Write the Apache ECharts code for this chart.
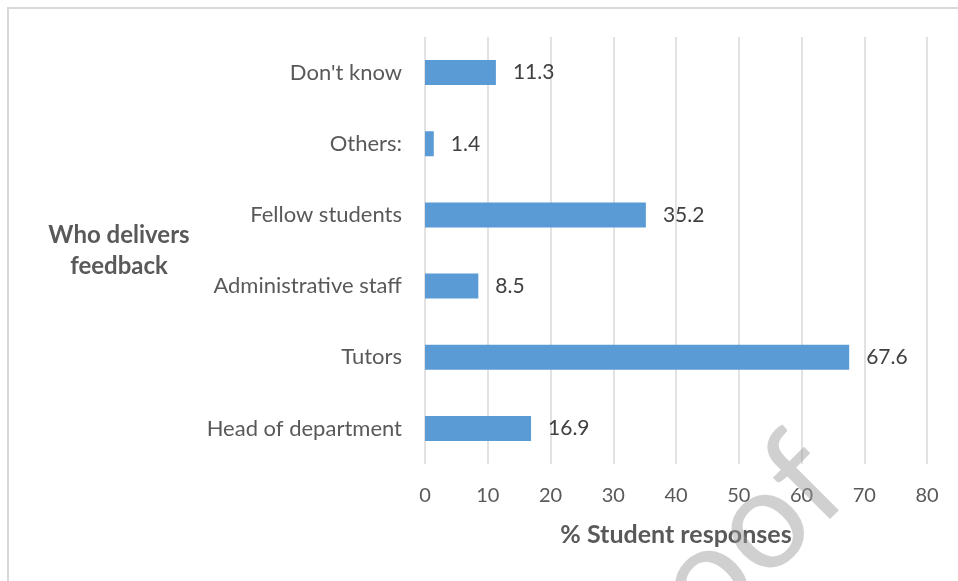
<!DOCTYPE html>
<html>
<head>
<meta charset="utf-8">
<title>Who delivers feedback</title>
<script src="https://cdn.jsdelivr.net/npm/echarts@6/dist/echarts.min.js"></script>
<style>
  html, body { margin: 0; padding: 0; background: #ffffff; }
  #chart { width: 958px; height: 581px; }
</style>
</head>
<body>
<div id="chart"></div>
<script>
// Categories listed bottom-to-top (category axis starts at the bottom)
const categories = ['Head of department', 'Tutors', 'Administrative staff', 'Fellow students', 'Others:', "Don't know"];
const responses = [16.9, 67.6, 8.5, 35.2, 1.4, 11.3];
const xTicks = { min: 0, max: 80, interval: 10 };

const FONT = 'Lato, "Open Sans", sans-serif';

const chart = echarts.init(document.getElementById('chart'), null, { renderer: 'canvas' });

chart.setOption({
  backgroundColor: '#ffffff',
  animation: false,
  grid: { left: 425, right: 31, top: 37, bottom: 117, containLabel: false },
  xAxis: {
    type: 'value',
    min: xTicks.min,
    max: xTicks.max,
    interval: xTicks.interval,
    axisLine: { show: false },
    axisTick: { show: false },
    splitLine: { show: true, lineStyle: { color: '#d9d9d9', width: 1.5 } },
    axisLabel: { color: '#595959', fontSize: 20, fontFamily: FONT, margin: 22 },
    name: '% Student responses',
    nameLocation: 'middle',
    nameGap: 58,
    nameTextStyle: { color: '#595959', fontSize: 25, fontWeight: 'bold', fontFamily: FONT }
  },
  yAxis: {
    type: 'category',
    data: categories,
    axisLine: { show: false },
    axisTick: { show: false },
    splitLine: { show: false },
    axisLabel: { color: '#595959', fontSize: 22, fontFamily: FONT, margin: 23 },
    name: 'Who delivers\nfeedback',
    nameLocation: 'middle',
    nameRotate: 0,
    nameGap: 306,
    nameTextStyle: {
      color: '#595959', fontSize: 24, fontWeight: 'bold', fontFamily: FONT,
      align: 'center', lineHeight: 31
    }
  },
  series: [{
    type: 'bar',
    data: responses,
    barWidth: 25,
    itemStyle: { color: '#5b9bd5' },
    label: {
      show: true,
      position: 'right',
      distance: 17,
      color: '#404040',
      fontSize: 21,
      fontFamily: FONT
    }
  }],
  graphic: [
    {
      type: 'rect',
      silent: true,
      shape: { x: 8, y: 8, width: 1000, height: 1000 },
      style: { fill: 'none', stroke: '#d9d9d9', lineWidth: 2 }
    },
    {
      type: 'text',
      silent: true,
      x: 872,
      y: 512,
      rotation: Math.PI / 4,
      z: 100,
      style: {
        text: 'Proof',
        fontSize: 140,
        fontFamily: FONT,
        fill: 'rgba(150,150,150,0.45)',
        align: 'right',
        verticalAlign: 'bottom'
      }
    }
  ]
});
</script>
</body>
</html>
